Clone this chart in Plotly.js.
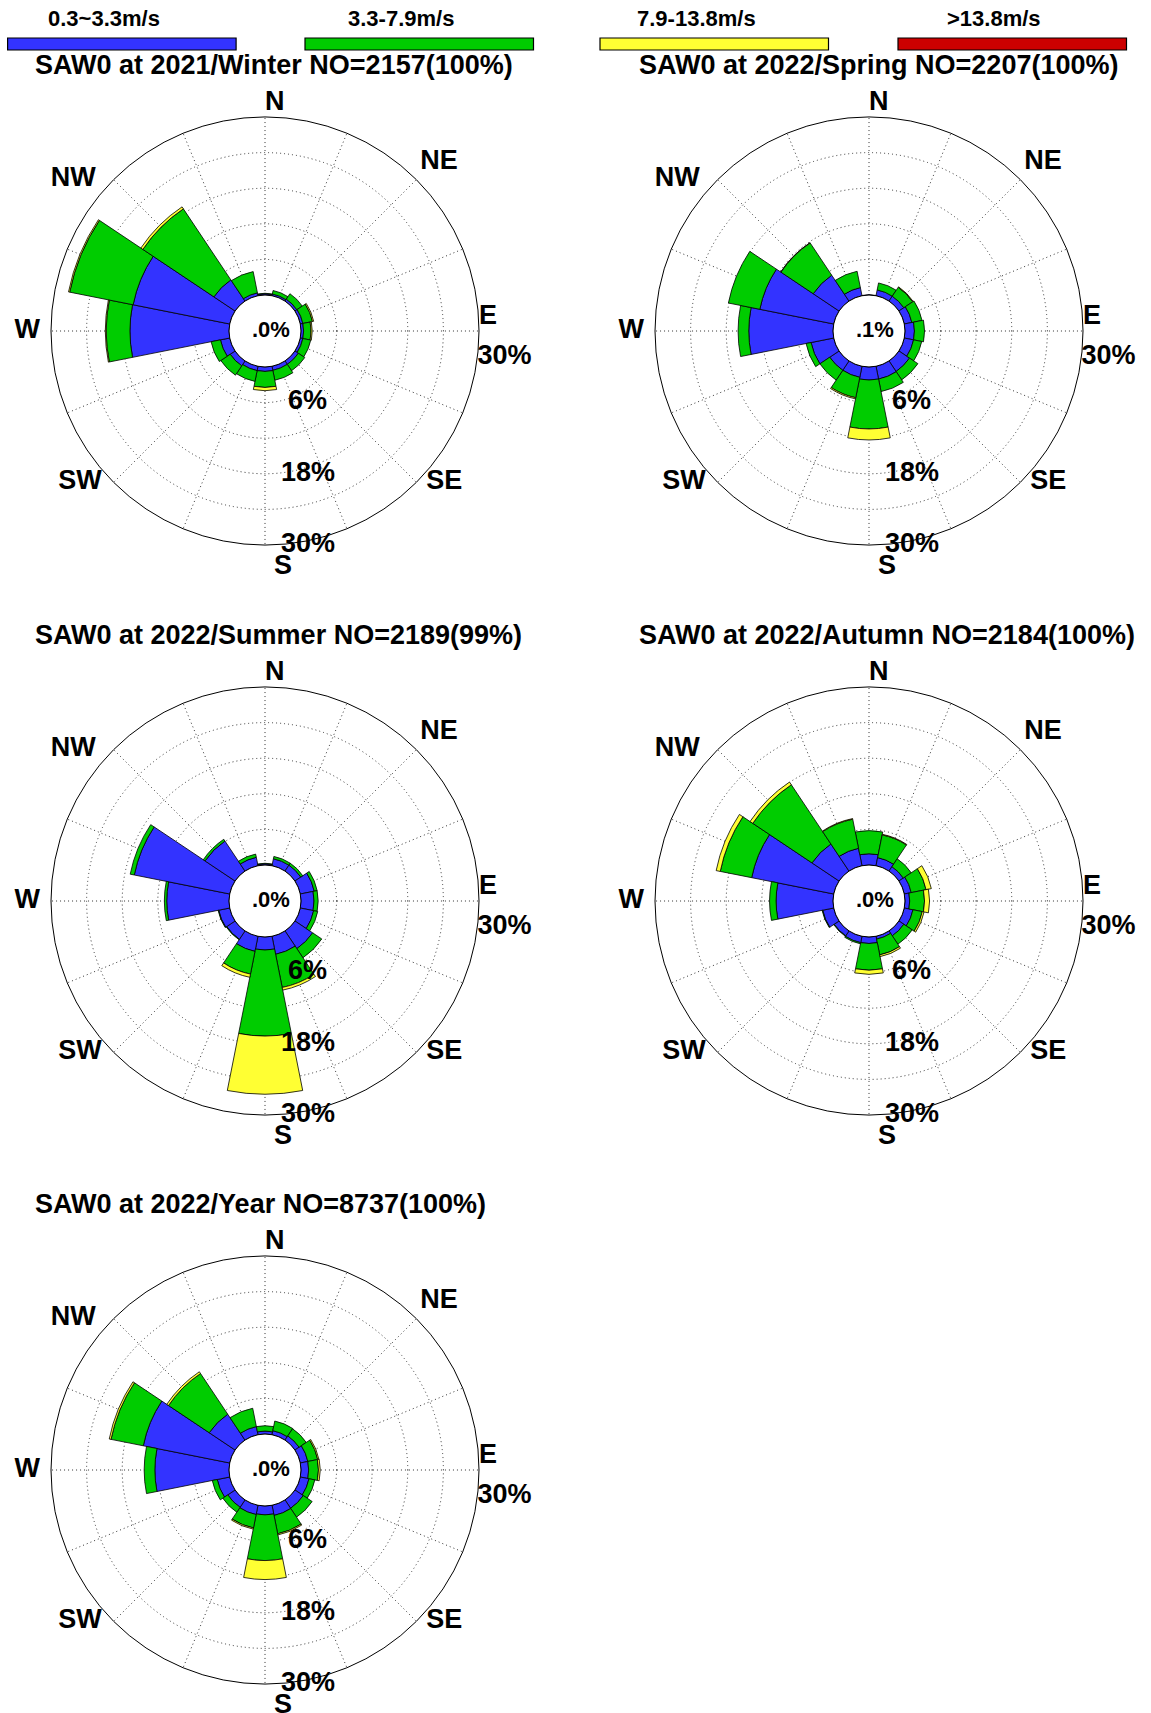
<!DOCTYPE html>
<html>
<head>
<meta charset="utf-8">
<script src="https://cdn.plot.ly/plotly-3.0.1.min.js"></script>
<style>html,body{margin:0;padding:0;background:#ffffff;}</style>
</head>
<body>
<div id="chart" style="width:1151px;height:1713px;"></div>
<script>
// ---------------- data ----------------
const directions = [0, 22.5, 45, 67.5, 90, 112.5, 135, 157.5, 180, 202.5, 225, 247.5, 270, 292.5, 315, 337.5];
const compassAngles = [0, 45, 90, 135, 180, 225, 270, 315];
const compassNames = ['N', 'NE', 'E', 'SE', 'S', 'SW', 'W', 'NW'];
const speedClasses = ['0.3~3.3m/s', '3.3-7.9m/s', '7.9-13.8m/s', '>13.8m/s'];
const speedColors = ['#3333ff', '#00cc00', '#ffff33', '#cc0000'];
const ringValues = [6, 12, 18, 24, 30];
const ringLabelValues = [6, 18, 30];
const ringLabelText = ['6%', '18%', '30%'];
const edgeLabelValue = [30];
const edgeLabelText = ['30%'];
const panelTitles = [
  'SAW0 at 2021/Winter NO=2157(100%)',
  'SAW0 at 2022/Spring NO=2207(100%)',
  'SAW0 at 2022/Summer NO=2189(99%)',
  'SAW0 at 2022/Autumn NO=2184(100%)',
  'SAW0 at 2022/Year NO=8737(100%)'
];
const calmText = ['.0%', '.1%', '.0%', '.0%', '.0%'];

// frequencies (%) per direction, order N, NNE, NE, ... NNW
const winterLow  = [0.2, 0.3, 0.4, 0.45, 0.45, 0.45, 0.7, 0.7, 0.75, 0.75, 1.0, 1.6, 16.7, 16.6, 4.3, 0.5];
const winterMid  = [0.1, 0.6, 1.1, 1.65, 1.25, 1.35, 1.3, 1.7, 2.7, 1.85, 1.9, 1.6, 4.0, 10.9, 14.4, 3.65];
const winterHigh = [0, 0, 0, 0.2, 0.2, 0, 0, 0, 0.55, 0, 0, 0, 0.15, 0.2, 0.4, 0];
const winterTop  = [0, 0, 0, 0, 0, 0, 0, 0, 0, 0, 0, 0, 0, 0, 0, 0];

const springLow  = [0.05, 1.0, 1.0, 1.3, 1.6, 1.6, 2.15, 2.2, 2.2, 1.9, 1.9, 3.9, 14.2, 12.7, 5.25, 1.4];
const springMid  = [0, 1.2, 1.8, 1.75, 1.7, 1.4, 1.7, 2.15, 8.25, 3.5, 2.0, 0.85, 1.8, 5.4, 6.55, 2.8];
const springHigh = [0, 0, 0.1, 0, 0, 0, 0, 0, 1.85, 0.2, 0, 0, 0, 0, 0.05, 0];
const springTop  = [0, 0, 0, 0, 0, 0, 0, 0, 0, 0, 0, 0, 0, 0, 0, 0];

const summerLow  = [0.2, 1.2, 1.2, 2.4, 2.2, 2.3, 3.6, 3.1, 2.2, 2.6, 1.7, 1.9, 10.5, 16.4, 6.1, 1.45];
const summerMid  = [0.1, 0.4, 0.4, 0.5, 0.7, 0.7, 1.85, 5.7, 14.5, 3.9, 0.1, 0.1, 0.4, 0.7, 0.35, 0.55];
const summerHigh = [0, 0, 0, 0, 0, 0, 0, 0.45, 9.8, 0.55, 0, 0, 0, 0, 0, 0];
const summerTop  = [0, 0, 0, 0, 0, 0, 0, 0, 0, 0, 0, 0, 0, 0, 0, 0];

const autumnLow  = [1.9, 1.4, 0.9, 1.2, 0.8, 1.5, 1.0, 0.5, 1.1, 1.1, 1.0, 1.9, 9.6, 14.1, 5.5, 3.0];
const autumnMid  = [3.9, 3.9, 1.6, 2.55, 2.5, 1.6, 1.7, 2.7, 4.5, 0.2, 0.1, 0.1, 1.1, 5.4, 12.0, 5.0];
const autumnHigh = [0, 0.1, 0, 0.9, 0.85, 0.3, 0, 0.3, 0.7, 0, 0, 0, 0, 0.7, 0.55, 0.1];
const autumnTop  = [0, 0, 0, 0, 0, 0, 0, 0, 0, 0, 0, 0, 0, 0, 0, 0];

const yearLow  = [0.5, 0.7, 0.85, 1.3, 1.3, 1.5, 1.7, 1.75, 1.5, 1.6, 1.5, 2.15, 12.5, 14.85, 5.25, 1.4];
const yearMid  = [0.9, 1.65, 1.45, 1.7, 1.65, 1.0, 1.8, 3.15, 7.7, 2.3, 1.0, 0.85, 1.8, 5.55, 8.25, 3.15];
const yearHigh = [0, 0, 0, 0.2, 0.3, 0, 0, 0.2, 3.2, 0.2, 0, 0, 0, 0.3, 0.35, 0];
const yearTop  = [0, 0, 0, 0, 0, 0, 0, 0, 0, 0, 0, 0, 0, 0, 0, 0];

const panelSeries = [
  [winterLow, winterMid, winterHigh, winterTop],
  [springLow, springMid, springHigh, springTop],
  [summerLow, summerMid, summerHigh, summerTop],
  [autumnLow, autumnMid, autumnHigh, autumnTop],
  [yearLow, yearMid, yearHigh, yearTop]
];

// ---------------- layout / style ----------------
const W = 1151, H = 1713;
const R = 214;
const centers = [[265, 331], [869, 331], [265, 901], [869, 901], [265, 1470]];
const FONT = 'Liberation Sans, Arial, Helvetica, sans-serif';
const GRID_DASH = '1px,3px';
const fx = p => p / W;
const fy = p => 1 - p / H;
// placement style of the compass labels (text side and gap from the circle)
const compassTextPos = ['top right', 'top right', 'top right', 'middle right',
                        'bottom right', 'middle left', 'middle left', 'middle left'];
const compassGap = [0, 4.8, 0, 14.4, 12.8, 17.6, 16, 27];
const ringLabelGap = [35, 24, 24];
// invisible spacer markers (they only set the text offset)
const spacer = sizes => ({size: sizes, color: 'rgba(0,0,0,0)', opacity: 0, line: {width: 0, color: 'rgba(0,0,0,0)'}});

const traces = [];
const layout = {
  width: W, height: H,
  margin: {l: 0, r: 0, t: 0, b: 0},
  paper_bgcolor: '#ffffff',
  plot_bgcolor: '#ffffff',
  showlegend: false,
  font: {family: FONT, color: '#000000'},
  annotations: [],
  shapes: []
};

centers.forEach(([cx, cy], i) => {
  const key = i === 0 ? 'polar' : 'polar' + (i + 1);
  layout[key] = {
    domain: {x: [fx(cx - R), fx(cx + R)], y: [fy(cy + R), fy(cy - R)]},
    hole: 0.168,
    bgcolor: '#ffffff',
    barmode: 'stack',
    angularaxis: {
      rotation: 90,
      direction: 'clockwise',
      tickmode: 'array',
      tickvals: directions,
      showticklabels: false,
      ticks: '',
      showline: true,
      linecolor: '#000000',
      linewidth: 1,
      showgrid: true,
      gridcolor: '#333333',
      gridwidth: 1,
      griddash: GRID_DASH
    },
    radialaxis: {
      range: [0, 30],
      tickmode: 'array',
      tickvals: ringValues,
      showticklabels: false,
      ticks: '',
      showline: false,
      showgrid: true,
      gridcolor: '#333333',
      gridwidth: 1,
      griddash: GRID_DASH
    }
  };

  panelSeries[i].forEach((vals, k) => {
    traces.push({
      type: 'barpolar',
      subplot: key,
      r: vals,
      theta: directions,
      width: 22.5,
      name: speedClasses[k],
      marker: {color: speedColors[k], line: {color: '#000000', width: 0.8}},
      hoverinfo: 'skip'
    });
  });

  // compass labels on the rim
  traces.push({
    type: 'scatterpolar',
    subplot: key,
    mode: 'markers+text',
    r: compassAngles.map(() => 30),
    theta: compassAngles,
    text: compassNames,
    textposition: compassTextPos,
    marker: spacer(compassGap),
    textfont: {family: FONT, size: 27, color: '#000000', weight: 'bold'},
    cliponaxis: false,
    hoverinfo: 'skip'
  });
  // ring percentage labels along the south spoke
  traces.push({
    type: 'scatterpolar',
    subplot: key,
    mode: 'markers+text',
    r: ringLabelValues,
    theta: ringLabelValues.map(() => 180),
    text: ringLabelText,
    textposition: 'middle right',
    marker: spacer(ringLabelGap),
    textfont: {family: FONT, size: 27, color: '#000000', weight: 'bold'},
    cliponaxis: false,
    hoverinfo: 'skip'
  });
  // outer ring label beside E
  traces.push({
    type: 'scatterpolar',
    subplot: key,
    mode: 'text',
    r: edgeLabelValue,
    theta: [97],
    text: edgeLabelText,
    textposition: 'middle right',
    textfont: {family: FONT, size: 27, color: '#000000', weight: 'bold'},
    cliponaxis: false,
    hoverinfo: 'skip'
  });

  // panel title
  layout.annotations.push({
    xref: 'paper', yref: 'paper',
    x: fx(cx - 232), y: fy(cy - 266),
    xanchor: 'left', yanchor: 'middle',
    text: panelTitles[i],
    showarrow: false,
    font: {family: FONT, size: 27, color: '#000000', weight: 'bold'}
  });
  // calm percentage in the centre
  layout.annotations.push({
    xref: 'paper', yref: 'paper',
    x: fx(cx + 6), y: fy(cy - 2),
    xanchor: 'center', yanchor: 'middle',
    text: calmText[i],
    showarrow: false,
    font: {family: FONT, size: 22, color: '#000000', weight: 'bold'}
  });
});

// legend: coloured bars with class labels above
const legendX0 = [7.6, 305, 600, 898];
const legendW = 228.5;
speedClasses.forEach((name, k) => {
  layout.shapes.push({
    type: 'rect', xref: 'paper', yref: 'paper',
    x0: fx(legendX0[k]), x1: fx(legendX0[k] + legendW),
    y0: fy(50), y1: fy(38),
    fillcolor: speedColors[k],
    line: {color: '#000000', width: 1.2}
  });
  layout.annotations.push({
    xref: 'paper', yref: 'paper',
    x: fx(legendX0[k] + legendW / 2 - 18), y: fy(19),
    xanchor: 'center', yanchor: 'middle',
    text: name,
    showarrow: false,
    font: {family: FONT, size: 22, color: '#000000', weight: 'bold'}
  });
});

Plotly.newPlot('chart', traces, layout, {staticPlot: true, displayModeBar: false});
</script>
</body>
</html>
